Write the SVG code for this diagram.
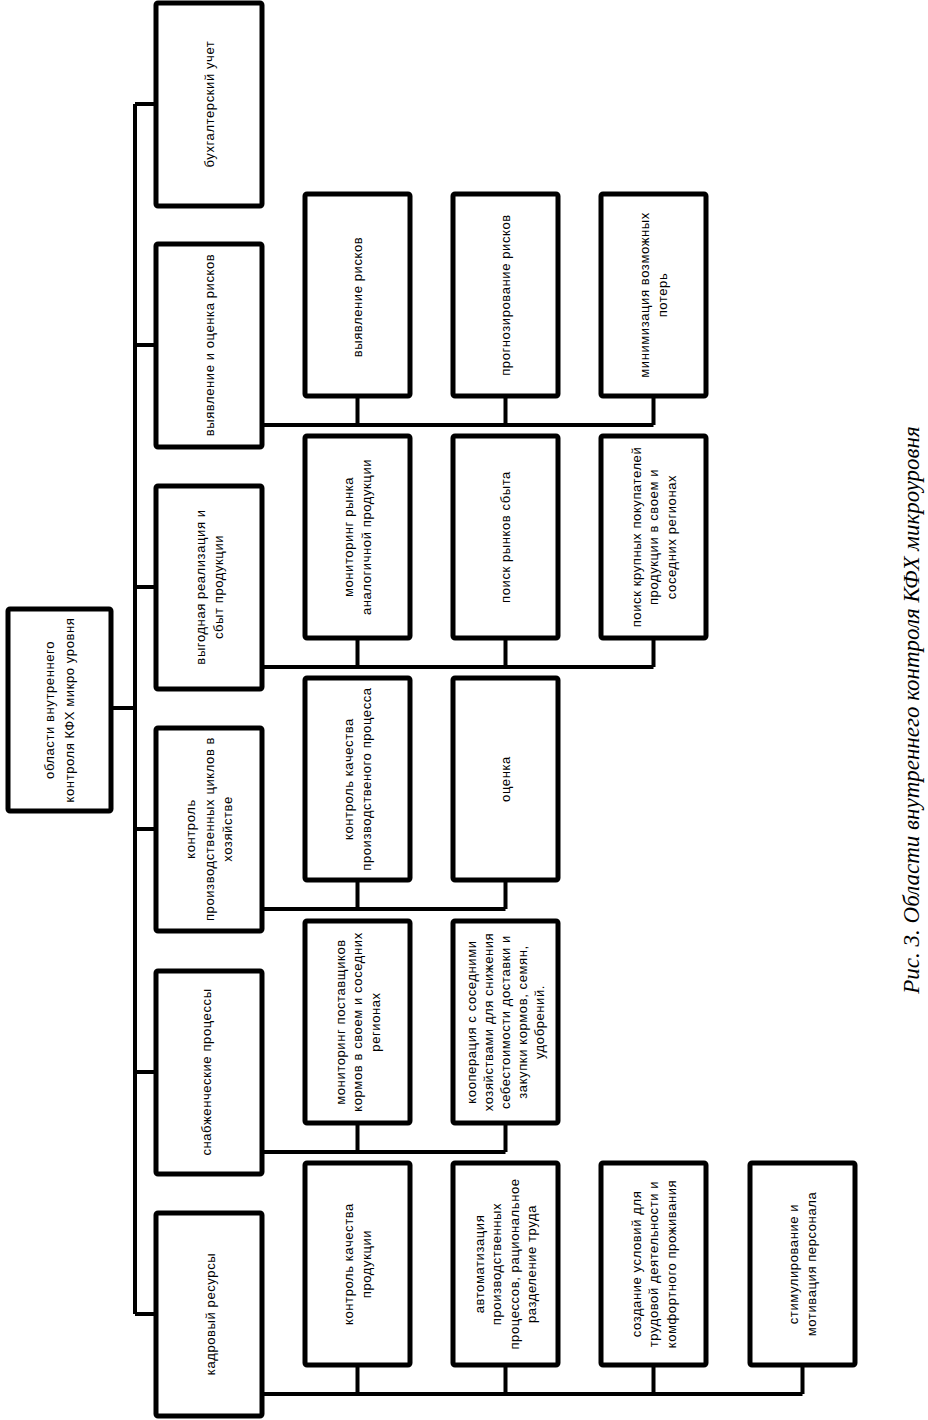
<svg xmlns="http://www.w3.org/2000/svg" width="928" height="1420" viewBox="0 0 928 1420">
<style>
.box{fill:#fff;stroke:#000;stroke-width:5;}
.ln{fill:none;stroke:#000;stroke-width:4;}
.t{font-family:"Liberation Sans",Arial,sans-serif;font-size:13px;letter-spacing:0.6px;fill:#000;text-anchor:middle;}
.cap{font-family:"Liberation Serif","Times New Roman",serif;font-style:italic;font-size:23px;fill:#000;text-anchor:middle;}
</style>
<rect width="928" height="1420" fill="#fff"/>
<g id="connectors">
<path class="ln" d="M111,708 H135 M135,104 V1314 M135,104 H156 M135,345 H156 M135,587 H156 M135,829 H156 M135,1072 H156 M135,1314 H156"/>
<path class="ln" d="M262,425 H653.5 M357.5,396 V425 M505.5,396 V425 M653.5,396 V425"/>
<path class="ln" d="M262,667 H653.5 M357.5,638 V667 M505.5,638 V667 M653.5,638 V667"/>
<path class="ln" d="M262,909 H505.5 M357.5,880 V909 M505.5,880 V909"/>
<path class="ln" d="M262,1152 H505.5 M357.5,1123 V1152 M505.5,1123 V1152"/>
<path class="ln" d="M262,1394 H802.5 M357.5,1365 V1394 M505.5,1365 V1394 M653.5,1365 V1394 M802.5,1365 V1394"/>
</g>
<g id="root">
<rect class="box" x="8" y="609" width="103" height="202" rx="2"/>
<text class="t" transform="translate(59.5,710) rotate(-90)"><tspan x="0" y="-5.5">области внутреннего</tspan><tspan x="0" y="14.5">контроля КФХ микро уровня</tspan></text>
</g>
<g id="n1">
<rect class="box" x="156" y="3" width="106" height="203" rx="2"/>
<text class="t" transform="translate(209,104) rotate(-90)"><tspan x="0" y="4.5">бухгалтерский учет</tspan></text>
</g>
<g id="n2">
<rect class="box" x="156" y="244" width="106" height="203" rx="2"/>
<text class="t" transform="translate(209,345) rotate(-90)"><tspan x="0" y="4.5">выявление и оценка рисков</tspan></text>
</g>
<g id="n3">
<rect class="box" x="156" y="486" width="106" height="203" rx="2"/>
<text class="t" transform="translate(209,587) rotate(-90)"><tspan x="0" y="-4.5">выгодная реализация и</tspan><tspan x="0" y="13.5">сбыт продукции</tspan></text>
</g>
<g id="n4">
<rect class="box" x="156" y="728" width="106" height="203" rx="2"/>
<text class="t" transform="translate(209,829) rotate(-90)"><tspan x="0" y="-14">контроль</tspan><tspan x="0" y="4.5">производственных циклов в</tspan><tspan x="0" y="22.5">хозяйстве</tspan></text>
</g>
<g id="n5">
<rect class="box" x="156" y="971" width="106" height="203" rx="2"/>
<text class="t" transform="translate(209,1072) rotate(-90)"><tspan x="0" y="2">снабженческие процессы</tspan></text>
</g>
<g id="n6">
<rect class="box" x="156" y="1213" width="106" height="203" rx="2"/>
<text class="t" transform="translate(209,1314) rotate(-90)"><tspan x="0" y="6">кадровый ресурсы</tspan></text>
</g>
<g id="n2a">
<rect class="box" x="305" y="194" width="105" height="202" rx="2"/>
<text class="t" transform="translate(357.5,297) rotate(-90)"><tspan x="0" y="4.5">выявление рисков</tspan></text>
</g>
<g id="n2b">
<rect class="box" x="453" y="194" width="105" height="202" rx="2"/>
<text class="t" transform="translate(505.5,295) rotate(-90)"><tspan x="0" y="4.5">прогнозирование рисков</tspan></text>
</g>
<g id="n2c">
<rect class="box" x="601" y="194" width="105" height="202" rx="2"/>
<text class="t" transform="translate(653.5,295) rotate(-90)"><tspan x="0" y="-4.5">минимизация возможных</tspan><tspan x="0" y="13.5">потерь</tspan></text>
</g>
<g id="n3a">
<rect class="box" x="305" y="436" width="105" height="202" rx="2"/>
<text class="t" transform="translate(357.5,537) rotate(-90)"><tspan x="0" y="-4.5">мониторинг рынка</tspan><tspan x="0" y="13.5">аналогичной продукции</tspan></text>
</g>
<g id="n3b">
<rect class="box" x="453" y="436" width="105" height="202" rx="2"/>
<text class="t" transform="translate(505.5,537) rotate(-90)"><tspan x="0" y="4.5">поиск рынков сбыта</tspan></text>
</g>
<g id="n3c">
<rect class="box" x="601" y="436" width="105" height="202" rx="2"/>
<text class="t" transform="translate(653.5,537) rotate(-90)"><tspan x="0" y="-13">поиск крупных покупателей</tspan><tspan x="0" y="4.5">продукции в своем и</tspan><tspan x="0" y="22">соседних регионах</tspan></text>
</g>
<g id="n4a">
<rect class="box" x="305" y="678" width="105" height="202" rx="2"/>
<text class="t" transform="translate(357.5,779) rotate(-90)"><tspan x="0" y="-4.5">контроль качества</tspan><tspan x="0" y="13.5">производственого процесса</tspan></text>
</g>
<g id="n4b">
<rect class="box" x="453" y="678" width="105" height="202" rx="2"/>
<text class="t" transform="translate(505.5,779) rotate(-90)"><tspan x="0" y="4.5">оценка</tspan></text>
</g>
<g id="n5a">
<rect class="box" x="305" y="921" width="105" height="202" rx="2"/>
<text class="t" transform="translate(357.5,1022) rotate(-90)"><tspan x="0" y="-13">мониторинг поставщиков</tspan><tspan x="0" y="4.5">кормов в своем и соседних</tspan><tspan x="0" y="22">регионах</tspan></text>
</g>
<g id="n5b">
<rect class="box" x="453" y="921" width="105" height="202" rx="2"/>
<text class="t" transform="translate(505.5,1022) rotate(-90)"><tspan x="0" y="-30">кооперация с соседними</tspan><tspan x="0" y="-13">хозяйствами для снижения</tspan><tspan x="0" y="4.5">себестоимости доставки и</tspan><tspan x="0" y="21">закупки кормов, семян,</tspan><tspan x="0" y="38">удобрений.</tspan></text>
</g>
<g id="n6a">
<rect class="box" x="305" y="1163" width="105" height="202" rx="2"/>
<text class="t" transform="translate(357.5,1264) rotate(-90)"><tspan x="0" y="-4.5">контроль качества</tspan><tspan x="0" y="13.5">продукции</tspan></text>
</g>
<g id="n6b">
<rect class="box" x="453" y="1163" width="105" height="202" rx="2"/>
<text class="t" transform="translate(505.5,1264) rotate(-90)"><tspan x="0" y="-22">автоматизация</tspan><tspan x="0" y="-4.5">производственных</tspan><tspan x="0" y="13">процессов, рациональное</tspan><tspan x="0" y="30">разделение труда</tspan></text>
</g>
<g id="n6c">
<rect class="box" x="601" y="1163" width="105" height="202" rx="2"/>
<text class="t" transform="translate(653.5,1264) rotate(-90)"><tspan x="0" y="-13">создание условий для</tspan><tspan x="0" y="4.5">трудовой деятельности и</tspan><tspan x="0" y="22">комфортного проживания</tspan></text>
</g>
<g id="n6d">
<rect class="box" x="750" y="1163" width="105" height="202" rx="2"/>
<text class="t" transform="translate(802.5,1264) rotate(-90)"><tspan x="0" y="-4.5">стимулирование и</tspan><tspan x="0" y="13.5">мотивация персонала</tspan></text>
</g>
<text class="cap" transform="translate(919,710) rotate(-90)">Рис. 3. Области внутреннего контроля КФХ микроуровня</text>
</svg>
